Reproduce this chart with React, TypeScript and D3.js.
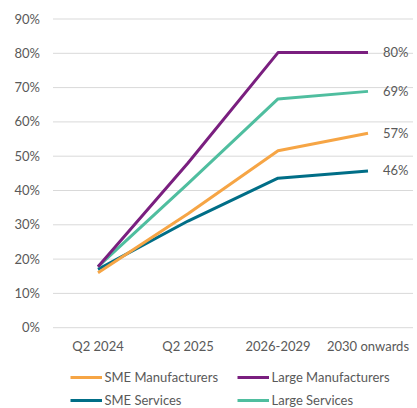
import React from "react";
import * as d3 from "d3";

const categories = ["Q2 2024", "Q2 2025", "2026-2029", "2030 onwards"];
const smeManufacturers = [16.0, 33.2, 51.6, 56.7];
const largeManufacturers = [17.8, 48.0, 80.2, 80.2];
const smeServices = [17.0, 31.1, 43.6, 45.7];
const largeServices = [17.8, 42.0, 66.7, 68.9];
const yTicks = [0, 10, 20, 30, 40, 50, 60, 70, 80, 90];
const endLabels = ["80%", "69%", "57%", "46%"];

const series = [
  { name: "SME Services", values: smeServices, color: "#006E87" },
  { name: "SME Manufacturers", values: smeManufacturers, color: "#F6A545" },
  { name: "Large Services", values: largeServices, color: "#4FBE9F" },
  { name: "Large Manufacturers", values: largeManufacturers, color: "#7A1F7F" },
];

const W = 417;
const H = 408;
const FONT = "Lato, 'Open Sans', sans-serif";
const FS = 13;

export default function App() {
  const x = d3.scaleBand<string>().domain(categories).range([53, 413]);
  const y = d3.scaleLinear().domain([0, 90]).range([327.7, 19]);
  const line = d3
    .line<number>()
    .x((_, i) => (x(categories[i]) as number) + x.bandwidth() / 2)
    .y((d) => y(d));

  const labelSeries = [largeManufacturers, largeServices, smeManufacturers, smeServices];

  const legend = [
    { name: "SME Manufacturers", color: "#F6A545", lx: 70.5, ly: 377.5 },
    { name: "Large Manufacturers", color: "#7A1F7F", lx: 237.5, ly: 377.5 },
    { name: "SME Services", color: "#006E87", lx: 70.5, ly: 400.5 },
    { name: "Large Services", color: "#4FBE9F", lx: 237.5, ly: 400.5 },
  ];

  return (
    <svg
      width={W}
      height={H}
      style={{ position: "absolute", left: 0, top: 0, background: "#fff" }}
      fontFamily={FONT}
    >
      {yTicks.map((t) => (
        <g key={t}>
          <line x1={53} x2={413} y1={y(t)} y2={y(t)} stroke="#d9d9d9" strokeWidth={1} />
          <text x={40} y={y(t)} dy="0.35em" textAnchor="end" fontSize={FS} fill="#595959">
            {t}%
          </text>
        </g>
      ))}
      {categories.map((c) => (
        <text
          key={c}
          x={(x(c) as number) + x.bandwidth() / 2}
          y={346}
          dy="0.35em"
          textAnchor="middle"
          fontSize={FS}
          fill="#595959"
        >
          {c}
        </text>
      ))}
      {series.map((s) => (
        <path
          key={s.name}
          d={line(s.values) as string}
          fill="none"
          stroke={s.color}
          strokeWidth={3}
          strokeLinejoin="round"
        />
      ))}
      {labelSeries.map((vals, i) => (
        <text
          key={i}
          x={383}
          y={y(vals[3])}
          dy="0.35em"
          fontSize={FS}
          fill="#595959"
        >
          {endLabels[i]}
        </text>
      ))}
      {legend.map((l) => (
        <g key={l.name}>
          <line x1={l.lx} x2={l.lx + 31.5} y1={l.ly} y2={l.ly} stroke={l.color} strokeWidth={3} />
          <text x={l.lx + 34} y={l.ly} dy="0.35em" fontSize={FS} fill="#595959">
            {l.name}
          </text>
        </g>
      ))}
    </svg>
  );
}
